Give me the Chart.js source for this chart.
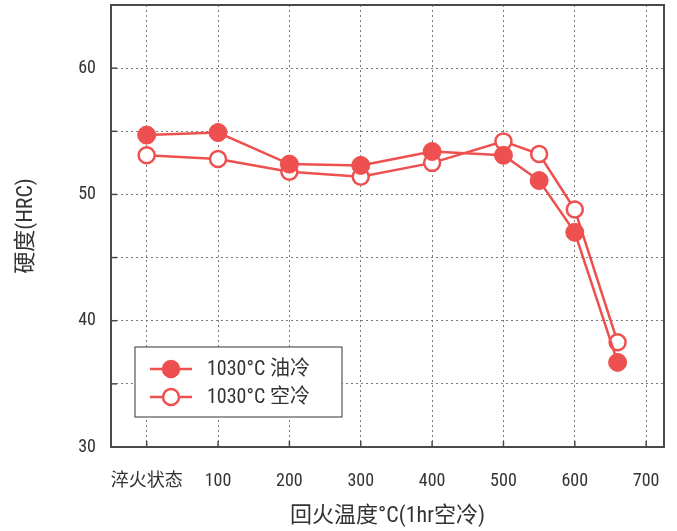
<!DOCTYPE html>
<html>
<head>
<meta charset="utf-8">
<script src="https://cdn.jsdelivr.net/npm/chart.js@4"></script>
<style>
  html, body { margin: 0; padding: 0; background: #fff; }
  #wrap { width: 677px; height: 531px; }
</style>
</head>
<body>
<div id="wrap"><canvas id="myChart" width="677" height="531"></canvas></div>
<script>
// tempering temperature (0 = as quenched)
const temps = [0, 100, 200, 300, 400, 500, 550, 600, 660];
const hardnessOil = [54.7, 54.9, 52.4, 52.3, 53.4, 53.1, 51.1, 47.0, 36.7];
const hardnessAir = [53.1, 52.8, 51.8, 51.4, 52.5, 54.2, 53.2, 48.8, 38.3];
const seriesNames = ["1030°C 油冷", "1030°C 空冷"];

const xTickValues = [0, 100, 200, 300, 400, 500, 600, 700];
const xTickLabels = ["淬火状态", "100", "200", "300", "400", "500", "600", "700"];
const yTickLabels = [30, 40, 50, 60];

const red = "#ee4f4f";
const fontFam = "'Liberation Sans Narrow', 'Roboto Condensed', Roboto, 'Noto Sans CJK SC', sans-serif";

const toPoints = (xs, ys) => xs.map((x, i) => ({ x: x, y: ys[i] }));

// frame + inward ticks
const framePlugin = {
	id: "frame",
	afterDraw(chart) {
		const ctx = chart.ctx;
		const a = chart.chartArea;
		const xs = chart.scales.x, ys = chart.scales.y;
		ctx.save();
		ctx.strokeStyle = "#4a4a4a";
		ctx.lineWidth = 1.5;
		xs.ticks.forEach(t => {
			const px = xs.getPixelForValue(t.value);
			ctx.beginPath(); ctx.moveTo(px, a.bottom); ctx.lineTo(px, a.bottom - 6); ctx.stroke();
		});
		ys.ticks.forEach(t => {
			const py = ys.getPixelForValue(t.value);
			ctx.beginPath(); ctx.moveTo(a.left, py); ctx.lineTo(a.left + 6, py); ctx.stroke();
		});
		ctx.lineWidth = 2;
		ctx.strokeRect(a.left, a.top, a.right - a.left, a.bottom - a.top);
		ctx.restore();
	}
};

// legend box inside plot
const legendPlugin = {
	id: "boxLegend",
	afterDraw(chart) {
		const ctx = chart.ctx;
		const a = chart.chartArea;
		const left = a.left + 24, top = a.bottom - 100, w = 207, h = 70;
		ctx.save();
		ctx.fillStyle = "#fff";
		ctx.fillRect(left, top, w, h);
		ctx.strokeStyle = "#555";
		ctx.lineWidth = 1.2;
		ctx.strokeRect(left, top, w, h);
		chart.data.datasets.forEach((ds, i) => {
			const cy = top + 22 + i * 28;
			ctx.strokeStyle = red;
			ctx.lineWidth = 2.5;
			ctx.beginPath(); ctx.moveTo(left + 15, cy); ctx.lineTo(left + 57, cy); ctx.stroke();
			ctx.beginPath(); ctx.arc(left + 36, cy, 8, 0, Math.PI * 2);
			ctx.fillStyle = ds.pointBackgroundColor;
			ctx.fill(); ctx.stroke();
			ctx.fillStyle = "#333";
			ctx.font = "20px " + fontFam;
			ctx.textBaseline = "middle";
			ctx.fillText(ds.label, left + 72, cy + 1);
		});
		ctx.restore();
	}
};

new Chart(document.getElementById("myChart"), {
	type: "line",
	data: {
		datasets: [
			{
				label: seriesNames[0],
				data: toPoints(temps, hardnessOil),
				borderColor: red,
				borderWidth: 2.5,
				pointRadius: 9,
				pointBorderWidth: 1,
				pointBackgroundColor: red,
				pointBorderColor: red,
				tension: 0
			},
			{
				label: seriesNames[1],
				data: toPoints(temps, hardnessAir),
				borderColor: red,
				borderWidth: 2.5,
				pointRadius: 8,
				pointBorderWidth: 2.5,
				pointBackgroundColor: "#ffffff",
				pointBorderColor: red,
				tension: 0
			}
		]
	},
	options: {
		responsive: false,
		animation: false,
		layout: { autoPadding: false, padding: { top: 5, right: 13, left: 0, bottom: 0 } },
		plugins: { legend: { display: false }, tooltip: { enabled: false } },
		scales: {
			x: {
				type: "linear",
				min: -50,
				max: 725,
				afterBuildTicks: axis => { axis.ticks = xTickValues.map(v => ({ value: v })); },
				afterFit: scale => { scale.height = 84; scale.paddingRight = 0; scale.paddingLeft = 0; },
				grid: { color: "#7a7a7a", lineWidth: 1, drawTicks: false },
				border: { display: false, dash: [2, 3] },
				ticks: {
					padding: 24,
					color: "#333",
					font: { family: fontFam, size: 18 },
					maxRotation: 0,
					autoSkip: false,
					callback: v => xTickLabels[xTickValues.indexOf(v)]
				},
				title: {
					display: true,
					text: "回火温度°C(1hr空冷)",
					color: "#333",
					font: { family: fontFam, size: 22 },
					padding: { top: 2, bottom: 1 }
				}
			},
			y: {
				min: 30,
				max: 65,
				afterFit: scale => { scale.width = 111; scale.paddingTop = 0; scale.paddingBottom = 0; },
				grid: { color: "#7a7a7a", lineWidth: 1, drawTicks: false },
				border: { display: false, dash: [2, 3] },
				ticks: {
					stepSize: 5,
					padding: 15,
					color: "#333",
					font: { family: fontFam, size: 18 },
					callback: v => yTickLabels.includes(v) ? String(v) : ""
				},
				title: {
					display: true,
					text: "硬度(HRC)",
					color: "#333",
					font: { family: fontFam, size: 22 },
					padding: { top: 13, bottom: 0 }
				}
			}
		}
	},
	plugins: [framePlugin, legendPlugin]
});
</script>
</body>
</html>
